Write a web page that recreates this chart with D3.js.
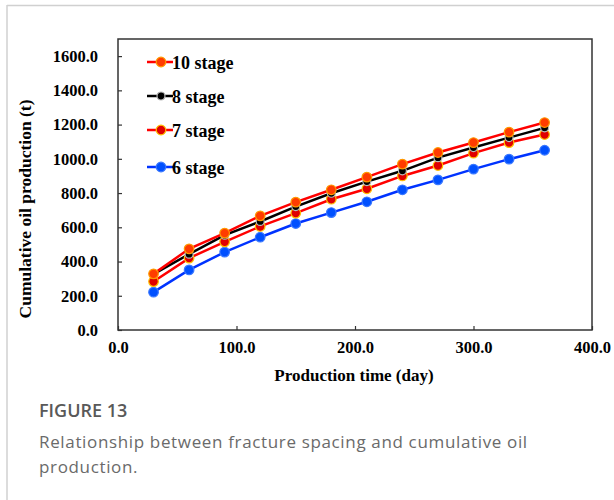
<!DOCTYPE html>
<html>
<head>
<meta charset="utf-8">
<script src="https://cdn.jsdelivr.net/npm/d3@7"></script>
<style>
  html, body { margin: 0; padding: 0; background: #fff; }
  svg { display: block; }
</style>
</head>
<body>
<svg id="chart" width="614" height="500"></svg>
<script>
// ---- data ----
const days = [30, 60, 90, 120, 150, 180, 210, 240, 270, 300, 330, 360];
const stage10 = [328, 474, 566, 667, 747, 819, 893, 969, 1037, 1095, 1156, 1212];
const stage8  = [326, 443, 554, 634, 721, 799, 867, 930, 1007, 1066, 1124, 1181];
const stage7  = [283, 420, 515, 605, 683, 764, 825, 900, 961, 1033, 1095, 1142];
const stage6  = [221, 351, 455, 542, 622, 686, 749, 819, 877, 940, 998, 1050];
const seriesNames = ["10 stage", "8 stage", "7 stage", "6 stage"];
const xTicks = [0, 100, 200, 300, 400];
const yTicks = [0, 200, 400, 600, 800, 1000, 1200, 1400, 1600];

const series = [
  { name: seriesNames[0], values: stage10, line: "#ff0000", fill: "#ff3c00", stroke: "#ff9a00", r: 4.8 },
  { name: seriesNames[1], values: stage8,  line: "#000000", fill: "#000000", stroke: "#bbbbbb", r: 4 },
  { name: seriesNames[2], values: stage7,  line: "#ff0000", fill: "#e00000", stroke: "#ffc000", r: 4.8 },
  { name: seriesNames[3], values: stage6,  line: "#0033ff", fill: "#0050ff", stroke: "#3a78ff", r: 4.8 }
];

const svg = d3.select("#chart");
const serif = "'Liberation Serif', 'Times New Roman', serif";

// figure frame (top & left light border)
svg.append("line").attr("x1", 7).attr("x2", 614).attr("y1", 5.5).attr("y2", 5.5)
  .attr("stroke", "#d0d0d0").attr("stroke-width", 1.5);
svg.append("line").attr("x1", 7).attr("x2", 7).attr("y1", 5).attr("y2", 500)
  .attr("stroke", "#d0d0d0").attr("stroke-width", 1.5);

const plot = { left: 118, right: 592, top: 39, bottom: 330 };
const x = d3.scaleLinear().domain([0, 400]).range([plot.left, plot.right]);
const y = d3.scaleLinear().domain([0, 1700]).range([plot.bottom, plot.top]);

// plot box
svg.append("rect").attr("x", plot.left).attr("y", plot.top)
  .attr("width", plot.right - plot.left).attr("height", plot.bottom - plot.top)
  .attr("fill", "none").attr("stroke", "#333").attr("stroke-width", 1.5);

// y axis
const yAxis = svg.append("g").attr("transform", `translate(${plot.left},0)`)
  .call(d3.axisLeft(y).tickValues(yTicks).tickFormat(d3.format(".1f")).tickSizeInner(-4).tickSizeOuter(0).tickPadding(20));
yAxis.select(".domain").remove();
yAxis.selectAll(".tick line").attr("stroke", "#333").attr("stroke-width", 1.2);
yAxis.selectAll("text").attr("font-family", serif).attr("font-weight", "bold")
  .attr("font-size", "16.5px").attr("fill", "#000");

// x axis
const xAxis = svg.append("g").attr("transform", `translate(0,${plot.bottom})`)
  .call(d3.axisBottom(x).tickValues(xTicks).tickFormat(d3.format(".1f")).tickSizeInner(-4).tickSizeOuter(0).tickPadding(11));
xAxis.select(".domain").remove();
xAxis.selectAll(".tick line").attr("stroke", "#333").attr("stroke-width", 1.2);
xAxis.selectAll("text").attr("font-family", serif).attr("font-weight", "bold")
  .attr("font-size", "16.5px").attr("fill", "#000");

// axis titles
svg.append("text").attr("x", 354).attr("y", 381).attr("text-anchor", "middle")
  .attr("font-family", serif).attr("font-weight", "bold").attr("font-size", "17px")
  .text("Production time (day)");
svg.append("text").attr("transform", "translate(31,209) rotate(-90)").attr("text-anchor", "middle")
  .attr("font-family", serif).attr("font-weight", "bold").attr("font-size", "17.5px")
  .text("Cumulative oil production (t)");

// lines & markers
const lineGen = d3.line().x((d, i) => x(days[i])).y(d => y(d));
const drawOrder = [3, 2, 1, 0];
drawOrder.forEach(k => {
  const s = series[k];
  svg.append("path").datum(s.values).attr("d", lineGen)
    .attr("fill", "none").attr("stroke", s.line).attr("stroke-width", 2.5);
});
drawOrder.forEach(k => {
  const s = series[k];
  svg.append("g").selectAll("circle").data(s.values).join("circle")
    .attr("cx", (d, i) => x(days[i])).attr("cy", d => y(d)).attr("r", s.r)
    .attr("fill", s.fill).attr("stroke", s.stroke).attr("stroke-width", 1.2);
});

// legend
const legendY = [62, 96, 130, 167];
series.forEach((s, i) => {
  const g = svg.append("g").attr("transform", `translate(147,${legendY[i]})`);
  g.append("line").attr("x1", 0).attr("x2", 26).attr("stroke", s.line).attr("stroke-width", 2.5);
  g.append("circle").attr("cx", 14).attr("r", s.r).attr("fill", s.fill)
    .attr("stroke", s.stroke).attr("stroke-width", 1.2);
  g.append("text").attr("x", 25).attr("y", 6.5).attr("font-family", serif)
    .attr("font-weight", "bold").attr("font-size", "18px").text(s.name);
});

// caption
const sans = "'Open Sans', sans-serif";
svg.append("text").attr("x", 39).attr("y", 417).attr("font-family", sans)
  .attr("font-weight", 600).attr("font-size", "18px").attr("fill", "#595959").text("FIGURE 13");
svg.append("text").attr("x", 39).attr("y", 448).attr("font-family", sans)
  .attr("font-size", "17px").attr("letter-spacing", "0.65px").attr("fill", "#6a6a6a")
  .text("Relationship between fracture spacing and cumulative oil");
svg.append("text").attr("x", 39).attr("y", 473).attr("font-family", sans)
  .attr("font-size", "17px").attr("letter-spacing", "0.65px").attr("fill", "#6a6a6a").text("production.");
</script>
</body>
</html>
